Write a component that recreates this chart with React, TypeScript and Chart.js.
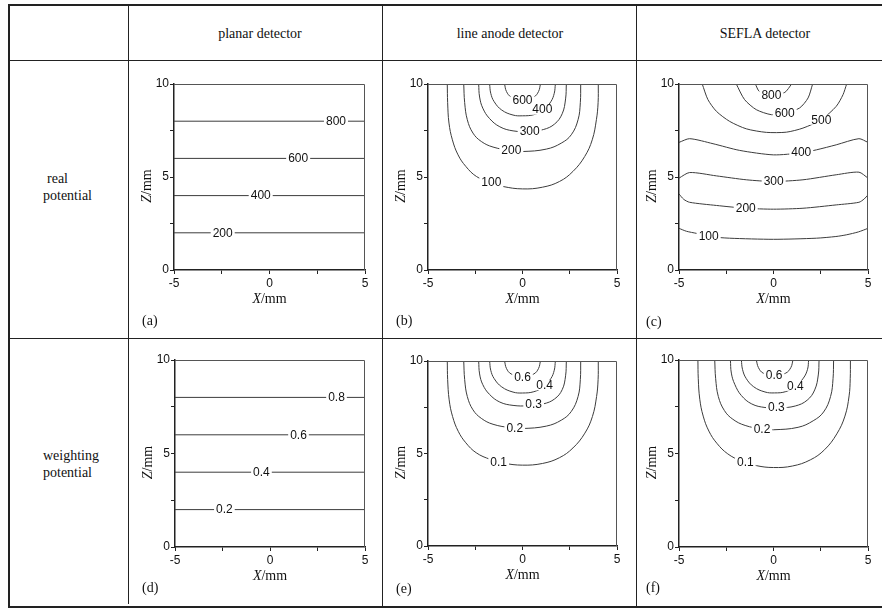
import React, { useEffect, useRef } from "react";
import { Chart, registerables } from "chart.js";

Chart.register(...registerables);

type Pt = [number, number];

// ---- table text ----
const COLUMN_TITLES = ["planar detector", "line anode detector", "SEFLA detector"];
const ROW_TITLES = [
  ["real", "potential"],
  ["weighting", "potential"],
];
const PANEL_TAGS = ["(a)", "(b)", "(c)", "(d)", "(e)", "(f)"];

// ---- axis ticks (mm) ----
const X_TICKS = [-5, 0, 5];
const Z_TICKS = [0, 5, 10];

// ---- (a) planar detector, real potential ----
const A_LEVELS = ["200", "400", "600", "800"];
const A_LEVEL_Z = [2, 4, 6, 8];
const A_LABEL_X = [-2.45, -0.46, 1.5, 3.48];

// ---- (b) line anode detector, real potential ----
const B_LEVELS = ["100", "200", "300", "400", "600"];
const B_100: Pt[] = [[-3.98, 10], [-3.96, 9.0], [-3.89, 7.9], [-3.71, 7.0], [-3.41, 6.19], [-3.0, 5.57], [-2.44, 5.03], [-1.7, 4.7], [-1.03, 4.49], [0, 4.36], [1.05, 4.45], [1.96, 4.76], [2.67, 5.3], [3.29, 6.1], [3.69, 7.0], [3.91, 8.08], [4.0, 9.0], [4.01, 10]];
const B_200: Pt[] = [[-3.11, 10], [-3.06, 9.0], [-2.92, 8.08], [-2.62, 7.36], [-2.18, 6.91], [-1.56, 6.61], [-0.6, 6.42], [0, 6.37], [1.26, 6.5], [2.05, 6.82], [2.58, 7.27], [2.94, 8.08], [3.06, 9.0], [3.08, 10]];
const B_300: Pt[] = [[-2.32, 10], [-2.27, 9.3], [-2.1, 8.7], [-1.75, 8.15], [-1.2, 7.7], [-0.5, 7.48], [0.3, 7.45], [1.1, 7.55], [1.7, 7.85], [2.1, 8.4], [2.28, 9.2], [2.32, 10]];
const B_400: Pt[] = [[-1.74, 10], [-1.68, 9.5], [-1.5, 9.05], [-1.1, 8.6], [-0.5, 8.33], [0, 8.29], [0.6, 8.35], [1.1, 8.6], [1.5, 9.05], [1.68, 9.5], [1.74, 10]];
const B_600: Pt[] = [[-0.95, 10], [-0.85, 9.6], [-0.6, 9.3], [0, 9.12], [0.6, 9.3], [0.85, 9.6], [0.95, 10]];
const B_LABEL_AT: Pt[] = [[-1.65, 4.72], [-0.59, 6.46], [0.38, 7.45], [1.05, 8.62], [0, 9.12]];

// ---- (c) SEFLA detector, real potential ----
const C_LEVELS = ["100", "200", "300", "400", "500", "600", "800"];
const C_100: Pt[] = [[-5, 2.24], [-4.6, 2.08], [-4.08, 1.97], [-3.43, 1.8], [-2.32, 1.71], [0, 1.65], [2.27, 1.71], [3.3, 1.8], [3.85, 1.89], [4.5, 2.05], [5, 2.24]];
const C_200: Pt[] = [[-5, 4.09], [-4.75, 3.8], [-4.44, 3.64], [-3.02, 3.47], [-1.47, 3.32], [0, 3.27], [1.56, 3.32], [3.32, 3.5], [4.52, 3.64], [4.8, 3.82], [5, 4.04]];
const C_300: Pt[] = [[-5, 4.94], [-4.44, 5.24], [-3.02, 5.06], [-1.44, 4.85], [0, 4.76], [1.56, 4.85], [3.32, 5.12], [4.52, 5.26], [5, 4.94]];
const C_400: Pt[] = [[-5, 6.86], [-4.44, 7.06], [-3.2, 6.79], [-1.79, 6.43], [0, 6.19], [1.47, 6.3], [2.27, 6.46], [3.32, 6.73], [4.52, 7.06], [5, 6.86]];
const C_500: Pt[] = [[-3.77, 10], [-3.47, 9.16], [-3.02, 8.53], [-2.32, 7.99], [-1.44, 7.59], [-0.38, 7.4], [0.68, 7.41], [1.56, 7.63], [2.53, 8.08], [3.32, 8.8], [3.68, 9.43], [3.87, 10]];
const C_600: Pt[] = [[-1.97, 10], [-1.53, 9.16], [-0.91, 8.62], [-0.11, 8.35], [0.59, 8.42], [1.38, 8.71], [1.83, 9.25], [2.07, 10]];
const C_800: Pt[] = [[-0.96, 10], [-0.75, 9.6], [-0.11, 9.38], [0.6, 9.55], [0.96, 10]];
const C_LABEL_AT: Pt[] = [[-3.43, 1.8], [-1.47, 3.32], [0.01, 4.76], [1.47, 6.31], [2.53, 8.08], [0.59, 8.43], [-0.11, 9.42]];

// ---- (d) planar detector, weighting potential ----
const D_LEVELS = ["0.2", "0.4", "0.6", "0.8"];
const D_LEVEL_Z = [2, 4, 6, 8];
const D_LABEL_X = [-2.4, -0.45, 1.5, 3.5];

// ---- (e) line anode detector, weighting potential ----
const E_LEVELS = ["0.1", "0.2", "0.3", "0.4", "0.6"];
const E_01: Pt[] = [[-3.98, 10], [-3.96, 9.0], [-3.88, 7.9], [-3.7, 7.0], [-3.4, 6.2], [-3.0, 5.58], [-2.45, 5.04], [-1.7, 4.68], [-1.0, 4.48], [0, 4.37], [1.05, 4.46], [1.95, 4.77], [2.67, 5.3], [3.3, 6.1], [3.7, 7.0], [3.92, 8.08], [4.0, 9.0], [4.01, 10]];
const E_02: Pt[] = [[-3.11, 10], [-3.06, 9.0], [-2.92, 8.08], [-2.62, 7.36], [-2.18, 6.9], [-1.56, 6.58], [-0.6, 6.39], [0, 6.35], [1.26, 6.48], [2.05, 6.8], [2.58, 7.27], [2.94, 8.08], [3.06, 9.0], [3.08, 10]];
const E_03: Pt[] = [[-2.32, 10], [-2.27, 9.3], [-2.1, 8.72], [-1.75, 8.2], [-1.2, 7.78], [-0.5, 7.6], [0.3, 7.58], [1.1, 7.68], [1.7, 7.95], [2.1, 8.45], [2.28, 9.2], [2.32, 10]];
const E_04: Pt[] = [[-1.74, 10], [-1.68, 9.5], [-1.5, 9.05], [-1.1, 8.6], [-0.5, 8.32], [0, 8.27], [0.6, 8.34], [1.1, 8.6], [1.5, 9.05], [1.68, 9.5], [1.74, 10]];
const E_06: Pt[] = [[-0.95, 10], [-0.85, 9.6], [-0.6, 9.3], [0, 9.14], [0.6, 9.3], [0.85, 9.6], [0.95, 10]];
const E_LABEL_AT: Pt[] = [[-1.26, 4.52], [-0.41, 6.37], [0.59, 7.64], [1.17, 8.69], [0, 9.14]];

// ---- (f) SEFLA detector, weighting potential ----
const F_LEVELS = ["0.1", "0.2", "0.3", "0.4", "0.6"];
const F_01: Pt[] = [[-4.0, 10], [-3.98, 9.0], [-3.9, 7.9], [-3.72, 7.0], [-3.42, 6.2], [-3.0, 5.55], [-2.42, 4.98], [-1.7, 4.6], [-0.9, 4.35], [0, 4.25], [1.0, 4.33], [1.95, 4.66], [2.7, 5.2], [3.35, 6.05], [3.78, 7.0], [4.0, 8.08], [4.06, 9.0], [4.07, 10]];
const F_02: Pt[] = [[-3.11, 10], [-3.06, 9.0], [-2.92, 8.05], [-2.6, 7.3], [-2.15, 6.83], [-1.5, 6.5], [-0.6, 6.31], [0, 6.27], [1.3, 6.4], [2.1, 6.75], [2.65, 7.22], [3.02, 8.05], [3.15, 9.0], [3.18, 10]];
const F_03: Pt[] = [[-2.28, 10], [-2.23, 9.3], [-2.05, 8.7], [-1.7, 8.1], [-1.15, 7.65], [-0.45, 7.46], [0.3, 7.44], [1.15, 7.54], [1.78, 7.85], [2.18, 8.4], [2.37, 9.2], [2.41, 10]];
const F_04: Pt[] = [[-1.7, 10], [-1.64, 9.5], [-1.45, 9.02], [-1.05, 8.57], [-0.45, 8.29], [0.05, 8.24], [0.65, 8.31], [1.16, 8.6], [1.58, 9.03], [1.8, 9.5], [1.86, 10]];
const F_06: Pt[] = [[-0.91, 10], [-0.8, 9.6], [-0.55, 9.3], [0.05, 9.16], [0.65, 9.3], [0.92, 9.6], [1.03, 10]];
const F_LABEL_AT: Pt[] = [[-1.49, 4.53], [-0.61, 6.31], [0.15, 7.47], [1.16, 8.62], [0.03, 9.18]];

// ---- styling ----
const INK = "#111";
const LINE_COLOR = "#3c3c3c";
const AXIS_COLOR = "#222";
const FRAME_COLOR = "#555";
const SANS = '"Liberation Sans", Arial, sans-serif';
const SERIF = '"Liberation Serif", "Times New Roman", serif';

type Rect = { x: number; y: number; w: number; h: number };
type Contour = { pts: Pt[]; label: string; at: Pt };
type PanelSpec = {
  canvas: Rect;
  plot: Rect;
  tag: string;
  tagAt: [number, number];
  tension: number;
  contours: Contour[];
};

const flatLevels = (levels: string[], zs: number[], lx: number[]): Contour[] =>
  levels.map((label, i) => ({
    pts: [[-5, zs[i]], [5, zs[i]]] as Pt[],
    label,
    at: [lx[i], zs[i]] as Pt,
  }));

const curveLevels = (levels: string[], curves: Pt[][], at: Pt[]): Contour[] =>
  levels.map((label, i) => ({ pts: curves[i], label, at: at[i] }));

const PANELS: PanelSpec[] = [
  {
    canvas: { x: 130, y: 62, w: 250, h: 274 },
    plot: { x: 174, y: 84, w: 191, h: 186 },
    tag: PANEL_TAGS[0],
    tagAt: [142, 321],
    tension: 0,
    contours: flatLevels(A_LEVELS, A_LEVEL_Z, A_LABEL_X),
  },
  {
    canvas: { x: 384, y: 62, w: 250, h: 274 },
    plot: { x: 428, y: 84, w: 189, h: 186 },
    tag: PANEL_TAGS[1],
    tagAt: [396, 321],
    tension: 0.4,
    contours: curveLevels(B_LEVELS, [B_100, B_200, B_300, B_400, B_600], B_LABEL_AT),
  },
  {
    canvas: { x: 638, y: 62, w: 244, h: 274 },
    plot: { x: 679, y: 84, w: 189, h: 186 },
    tag: PANEL_TAGS[2],
    tagAt: [646, 322],
    tension: 0.25,
    contours: curveLevels(C_LEVELS, [C_100, C_200, C_300, C_400, C_500, C_600, C_800], C_LABEL_AT),
  },
  {
    canvas: { x: 130, y: 340, w: 250, h: 264 },
    plot: { x: 175, y: 360, w: 190, h: 187 },
    tag: PANEL_TAGS[3],
    tagAt: [142, 588],
    tension: 0,
    contours: flatLevels(D_LEVELS, D_LEVEL_Z, D_LABEL_X),
  },
  {
    canvas: { x: 384, y: 340, w: 250, h: 264 },
    plot: { x: 428, y: 361, w: 189, h: 185 },
    tag: PANEL_TAGS[4],
    tagAt: [396, 589],
    tension: 0.4,
    contours: curveLevels(E_LEVELS, [E_01, E_02, E_03, E_04, E_06], E_LABEL_AT),
  },
  {
    canvas: { x: 638, y: 340, w: 244, h: 264 },
    plot: { x: 679, y: 360, w: 189, h: 187 },
    tag: PANEL_TAGS[5],
    tagAt: [646, 588],
    tension: 0.4,
    contours: curveLevels(F_LEVELS, [F_01, F_02, F_03, F_04, F_06], F_LABEL_AT),
  },
];

// draws "<italic letter>/mm" centred on (cx, cy)
function drawUnitTitle(ctx: CanvasRenderingContext2D, letter: string, cx: number, cy: number) {
  const italic = `italic 14px ${SERIF}`;
  const upright = `14px ${SERIF}`;
  ctx.font = italic;
  const w1 = ctx.measureText(letter).width;
  ctx.font = upright;
  const w2 = ctx.measureText("/mm").width;
  const x0 = cx - (w1 + w2) / 2;
  ctx.textAlign = "left";
  ctx.textBaseline = "middle";
  ctx.fillStyle = INK;
  ctx.font = italic;
  ctx.fillText(letter, x0, cy);
  ctx.font = upright;
  ctx.fillText("/mm", x0 + w1, cy);
}

function makeDecor(spec: PanelSpec) {
  return {
    id: "panelDecor",
    afterDraw(chart: Chart) {
      const { ctx, chartArea: ca, scales } = chart;
      const xs = scales.x;
      const ys = scales.y;
      ctx.save();

      // light top/right frame of the plot box
      ctx.strokeStyle = FRAME_COLOR;
      ctx.lineWidth = 1;
      ctx.beginPath();
      ctx.moveTo(ca.left, ca.top + 0.5);
      ctx.lineTo(ca.right - 0.5, ca.top + 0.5);
      ctx.lineTo(ca.right - 0.5, ca.bottom);
      ctx.stroke();

      // inline contour level labels
      ctx.font = `12px ${SANS}`;
      ctx.textAlign = "center";
      ctx.textBaseline = "middle";
      for (const c of spec.contours) {
        const px = xs.getPixelForValue(c.at[0]);
        const py = ys.getPixelForValue(c.at[1]);
        const w = ctx.measureText(c.label).width;
        ctx.fillStyle = "#fff";
        ctx.fillRect(px - w / 2 - 2, py - 5, w + 4, 10);
        ctx.fillStyle = INK;
        ctx.fillText(c.label, px, py + 0.5);
      }

      // axis titles
      drawUnitTitle(ctx, "X", (ca.left + ca.right) / 2, ca.bottom + 29);
      ctx.save();
      ctx.translate(ca.left - 27, (ca.top + ca.bottom) / 2 + 9);
      ctx.rotate(-Math.PI / 2);
      drawUnitTitle(ctx, "Z", 0, 0);
      ctx.restore();

      // panel tag
      ctx.font = `14px ${SERIF}`;
      ctx.textAlign = "left";
      ctx.textBaseline = "middle";
      ctx.fillStyle = INK;
      ctx.fillText(spec.tag, spec.tagAt[0] - spec.canvas.x, spec.tagAt[1] - spec.canvas.y);
      ctx.restore();
    },
  };
}

function Panel({ spec }: { spec: PanelSpec }) {
  const ref = useRef<HTMLCanvasElement>(null);
  const { canvas: c, plot: p } = spec;

  useEffect(() => {
    const el = ref.current;
    if (!el) return;
    const tickFont = { family: SANS, size: 12 };
    const chart = new Chart(el, {
      type: "scatter",
      data: {
        datasets: spec.contours.map((k) => ({
          data: k.pts.map(([x, y]) => ({ x, y })),
          showLine: true,
          borderColor: LINE_COLOR,
          borderWidth: 1,
          pointRadius: 0,
          pointHoverRadius: 0,
          tension: spec.tension,
          fill: false,
        })),
      },
      options: {
        animation: false,
        responsive: false,
        events: [],
        layout: {
          padding: { left: 0, top: p.y - c.y, right: c.x + c.w - (p.x + p.w), bottom: 0 },
        },
        plugins: { legend: { display: false }, tooltip: { enabled: false } },
        scales: {
          x: {
            type: "linear",
            min: -5,
            max: 5,
            afterFit: (s: any) => {
              s.height = c.y + c.h - (p.y + p.h);
            },
            ticks: {
              stepSize: 2.5,
              autoSkip: false,
              maxRotation: 0,
              padding: 2,
              color: INK,
              font: tickFont,
              callback: (v: any) => (X_TICKS.includes(Number(v)) ? String(v) : ""),
            },
            grid: { drawOnChartArea: false, drawTicks: true, tickLength: 4, tickColor: AXIS_COLOR, tickWidth: 1 },
            border: { display: true, color: AXIS_COLOR, width: 1.5 },
          },
          y: {
            type: "linear",
            min: 0,
            max: 10,
            afterFit: (s: any) => {
              s.width = p.x - c.x;
            },
            ticks: {
              stepSize: 2.5,
              autoSkip: false,
              padding: 1,
              color: INK,
              font: tickFont,
              callback: (v: any) => (Z_TICKS.includes(Number(v)) ? String(v) : ""),
            },
            grid: { drawOnChartArea: false, drawTicks: true, tickLength: 4, tickColor: AXIS_COLOR, tickWidth: 1 },
            border: { display: true, color: AXIS_COLOR, width: 1.5 },
          },
        },
      },
      plugins: [makeDecor(spec)],
    } as any);
    return () => chart.destroy();
  }, [spec]);

  return (
    <canvas
      ref={ref}
      width={c.w}
      height={c.h}
      style={{ position: "absolute", left: c.x, top: c.y, width: c.w, height: c.h }}
    />
  );
}

const rule = (left: number, top: number, width: number, height: number, color = "#222"): React.CSSProperties => ({
  position: "absolute",
  left,
  top,
  width,
  height,
  background: color,
});

// horizontal centres of the column headings
const COL_CENTER = [260, 510, 765];

export default function App() {
  return (
    <div
      style={{
        position: "fixed",
        left: 0,
        top: 0,
        width: 882,
        height: 610,
        background: "#fff",
        overflow: "hidden",
        fontFamily: SERIF,
        color: INK,
      }}
    >
      {/* table rules */}
      <div style={rule(8, 4, 2, 604)} />
      <div style={rule(8, 4, 874, 1.6)} />
      <div style={rule(10, 60, 872, 1)} />
      <div style={rule(10, 338, 872, 1)} />
      <div style={rule(8, 606, 874, 2)} />
      <div style={rule(128, 5, 1, 599)} />
      <div style={rule(382, 5, 1, 601)} />
      <div style={rule(636, 5, 1, 601)} />

      {/* column headings */}
      {COLUMN_TITLES.map((t, i) => (
        <div
          key={t}
          style={{
            position: "absolute",
            left: COL_CENTER[i] - 120,
            top: 24.5,
            width: 240,
            textAlign: "center",
            fontSize: 14,
            lineHeight: "17px",
            whiteSpace: "nowrap",
          }}
        >
          {t}
        </div>
      ))}

      {/* row headings */}
      {ROW_TITLES.map((lines, i) => (
        <div
          key={i}
          style={{
            position: "absolute",
            left: 43,
            top: i === 0 ? 169.5 : 446.5,
            width: 80,
            textAlign: "left",
            fontSize: 14,
            lineHeight: "17px",
          }}
        >
          {lines.map((l, j) => (
            <div key={j} style={{ paddingLeft: i === 0 && j === 0 ? 4 : 0 }}>
              {l}
            </div>
          ))}
        </div>
      ))}

      {PANELS.map((s) => (
        <Panel key={s.tag} spec={s} />
      ))}
    </div>
  );
}
